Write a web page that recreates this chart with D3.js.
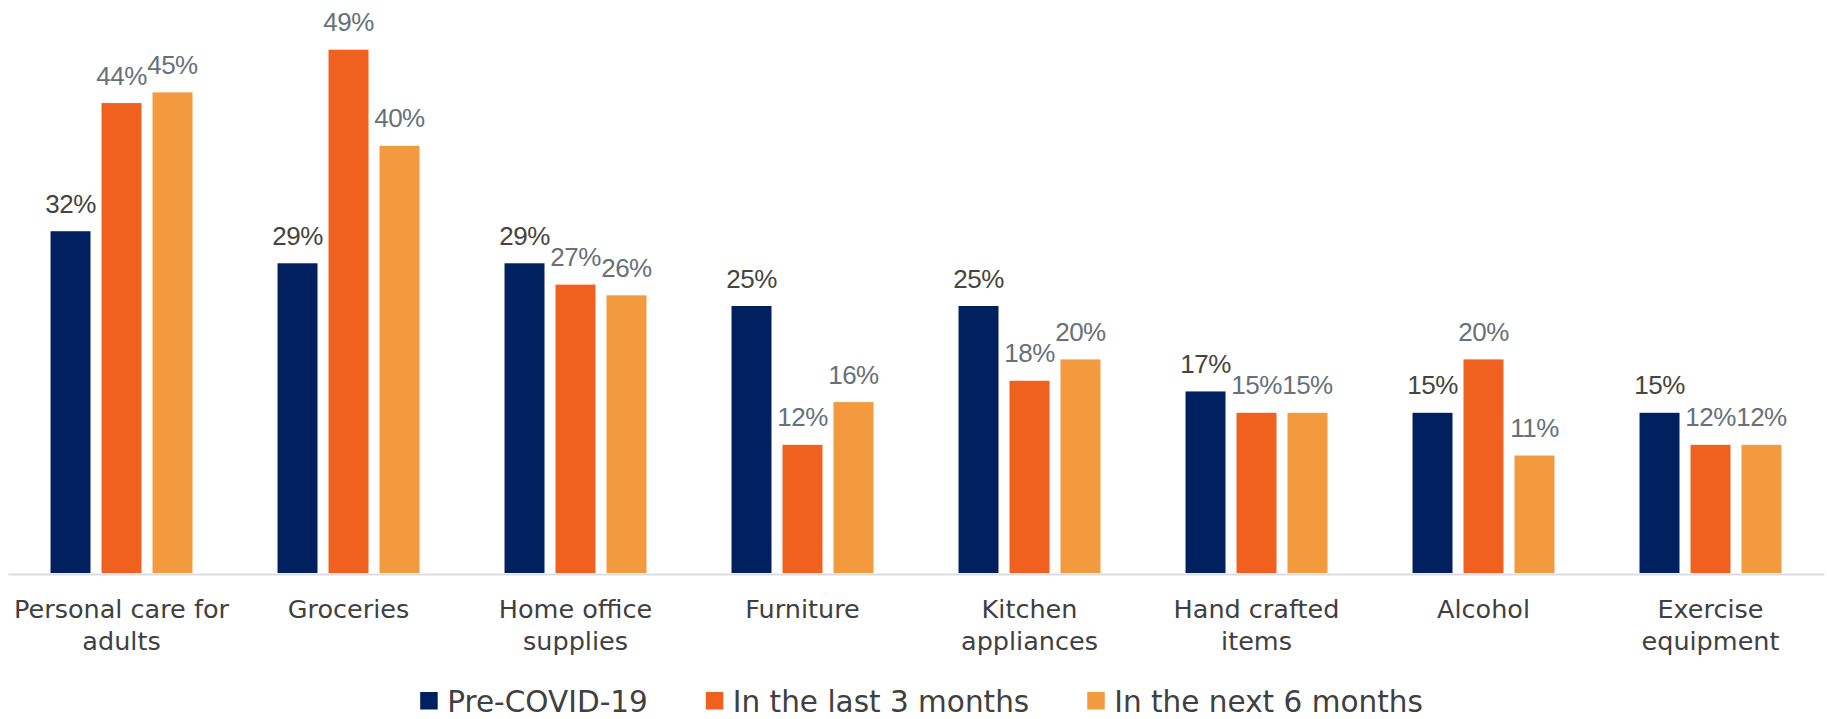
<!DOCTYPE html>
<html>
<head>
<meta charset="utf-8">
<script src="https://cdn.jsdelivr.net/npm/d3@7"></script>
<style>
  html, body { margin: 0; padding: 0; background: #ffffff; }
  svg { display: block; }
</style>
</head>
<body>
<svg id="chart" width="1827" height="719"></svg>
<script>
const categories = [
  ["Personal care for", "adults"],
  ["Groceries"],
  ["Home office", "supplies"],
  ["Furniture"],
  ["Kitchen", "appliances"],
  ["Hand crafted", "items"],
  ["Alcohol"],
  ["Exercise", "equipment"]
];
const seriesNames = ["Pre-COVID-19", "In the last 3 months", "In the next 6 months"];
const preCovid = [0.32, 0.29, 0.29, 0.25, 0.25, 0.17, 0.15, 0.15];
const last3Months = [0.44, 0.49, 0.27, 0.12, 0.18, 0.15, 0.20, 0.12];
const next6Months = [0.45, 0.40, 0.26, 0.16, 0.20, 0.15, 0.11, 0.12];
const seriesColors = ["#002060", "#F0601F", "#F39A3E"];
const labelColors = ["#45453C", "#66717A", "#66717A"];

const seriesValues = [preCovid, last3Months, next6Months];
const catKeys = categories.map(c => c.join(" "));

const svg = d3.select("#chart");
const baseY = 573;

const x0 = d3.scaleBand().domain(catKeys).range([8, 1824]).padding(0);
const x1 = d3.scaleBand().domain(seriesNames).range([0, x0.bandwidth()])
  .paddingInner(0.216).paddingOuter(0.834);
const y = d3.scaleLinear().domain([0, 0.5]).range([baseY, 39]);

const rows = [];
catKeys.forEach((k, i) => {
  seriesNames.forEach((s, j) => {
    rows.push({ cat: k, series: s, j: j, value: seriesValues[j][i] });
  });
});

// bars
svg.append("g").selectAll("rect").data(rows).join("rect")
  .attr("x", d => x0(d.cat) + x1(d.series))
  .attr("y", d => y(d.value))
  .attr("width", x1.bandwidth())
  .attr("height", d => y(0) - y(d.value))
  .attr("fill", d => seriesColors[d.j]);

// axis baseline
const xAxis = d3.axisBottom(x0).tickSize(0).tickFormat("");
const axisG = svg.append("g").attr("transform", `translate(0,${baseY + 1})`).call(xAxis);
axisG.select(".domain").attr("stroke", "#D9DDE1").attr("stroke-width", 2);

// data labels
const fmt = d3.format(".0%");
svg.append("g").selectAll("text").data(rows).join("text")
  .attr("x", d => x0(d.cat) + x1(d.series) + x1.bandwidth() / 2)
  .attr("y", d => y(d.value) - 18.5)
  .attr("text-anchor", "middle")
  .attr("font-family", "'Liberation Sans', Arial, sans-serif")
  .attr("font-size", 26)
  .attr("letter-spacing", -0.5)
  .attr("fill", d => labelColors[d.j])
  .text(d => fmt(d.value));

// category labels
const catG = svg.append("g");
categories.forEach((lines, i) => {
  const t = catG.append("text")
    .attr("x", x0(catKeys[i]) + x0.bandwidth() / 2)
    .attr("y", 617.7)
    .attr("text-anchor", "middle")
    .attr("font-family", "'DejaVu Sans', sans-serif")
    .attr("font-size", 25.5)
    .attr("fill", "#404040");
  lines.forEach((ln, li) => {
    t.append("tspan")
      .attr("x", x0(catKeys[i]) + x0.bandwidth() / 2)
      .attr("dy", li === 0 ? 0 : 32.3)
      .text(ln);
  });
});

// legend
const legend = svg.append("g");
const items = seriesNames.map((s, j) => {
  const g = legend.append("g");
  g.append("rect").attr("x", 0).attr("y", -19.5).attr("width", 17.5).attr("height", 17.5)
    .attr("fill", seriesColors[j]);
  const t = g.append("text").attr("x", 27).attr("y", 0)
    .attr("font-family", "'DejaVu Sans', sans-serif")
    .attr("font-size", 29.5)
    .attr("fill", "#404040")
    .text(s);
  return { g, w: 27 + t.node().getComputedTextLength() };
});
const gap = 58;
const total = d3.sum(items, d => d.w) + gap * (items.length - 1);
let lx = 921.5 - total / 2;
items.forEach(it => {
  it.g.attr("transform", `translate(${lx},711.5)`);
  lx += it.w + gap;
});
</script>
</body>
</html>
